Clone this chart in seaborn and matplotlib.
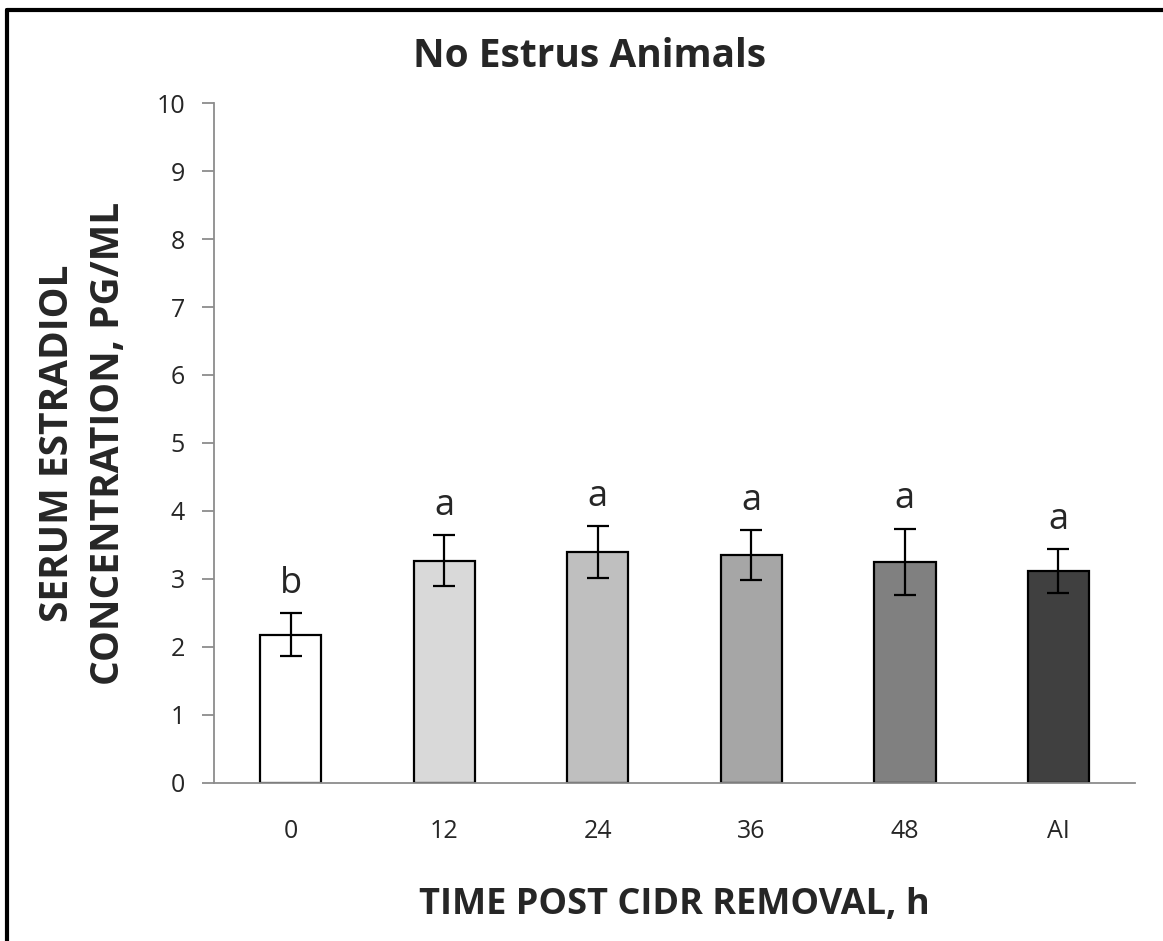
import numpy as np
import pandas as pd
import matplotlib
matplotlib.use("Agg")
import matplotlib.pyplot as plt
from matplotlib.lines import Line2D
import seaborn as sns

# data
times = ["0", "12", "24", "36", "48", "AI"]
means = [2.18, 3.27, 3.40, 3.35, 3.25, 3.12]
sems = [0.32, 0.37, 0.38, 0.37, 0.49, 0.32]
letters = ["b", "a", "a", "a", "a", "a"]
bar_colors = ["#ffffff", "#d9d9d9", "#bfbfbf", "#a6a6a6", "#808080", "#404040"]


def main():
    sns.set_style("white")
    plt.rcParams["font.family"] = ["Open Sans", "DejaVu Sans"]

    df = pd.DataFrame({"time": times, "conc": means})

    fig = plt.figure(figsize=(11.63, 9.41), dpi=100)
    ax = fig.add_axes([0.184, 0.168, 0.792, 0.7225])

    sns.barplot(data=df, x="time", y="conc", hue="time", palette=bar_colors,
                order=times, hue_order=times, legend=False, width=0.4,
                edgecolor="black", linewidth=1.6, errorbar=None, ax=ax)

    xs = [p.get_x() + p.get_width() / 2 for p in ax.patches]
    ax.errorbar(xs, means, yerr=sems, fmt="none", ecolor="black",
                elinewidth=1.6, capsize=8, capthick=1.6, zorder=5)

    for x, m, s, lab in zip(xs, means, sems, letters):
        ax.text(x, m + s + 0.3, lab, ha="center", va="baseline", fontsize=26)

    ax.set_xlim(-0.5, len(times) - 0.5)
    ax.set_ylim(0, 10)
    ax.set_yticks(range(0, 11))
    ax.set_xticks(np.arange(-0.5, len(times)), minor=True)
    ax.tick_params(axis="x", which="major", length=0, labelsize=18, pad=26)
    ax.tick_params(axis="x", which="minor", length=10, width=1.3,
                   color="#8c8c8c", direction="out")
    ax.tick_params(axis="y", length=9, width=1.3, color="#8c8c8c",
                   direction="out", labelsize=18, pad=12, left=True)

    for side in ["top", "right"]:
        ax.spines[side].set_visible(False)
    for side in ["left", "bottom"]:
        ax.spines[side].set_color("#8c8c8c")
        ax.spines[side].set_linewidth(1.3)

    ax.set_xlabel("TIME POST CIDR REMOVAL, h", fontsize=26, fontweight="bold",
                  labelpad=31)
    ax.set_ylabel("SERUM ESTRADIOL\nCONCENTRATION, PG/ML", fontsize=28,
                  fontweight="bold", labelpad=20, linespacing=1.4)
    fig.text(0.507, 1 - 67 / 941, "No Estrus Animals", fontsize=28,
             fontweight="bold", ha="center", va="baseline")

    # outer frame (top and left edges visible in the source)
    fig.add_artist(Line2D([0.006, 1.0], [0.989, 0.989], color="black",
                          linewidth=3, transform=fig.transFigure))
    fig.add_artist(Line2D([0.006, 0.006], [0.0, 0.989], color="black",
                          linewidth=3, transform=fig.transFigure))

    fig.savefig("out.png", dpi=100)
    plt.close(fig)


if __name__ == "__main__":
    main()
